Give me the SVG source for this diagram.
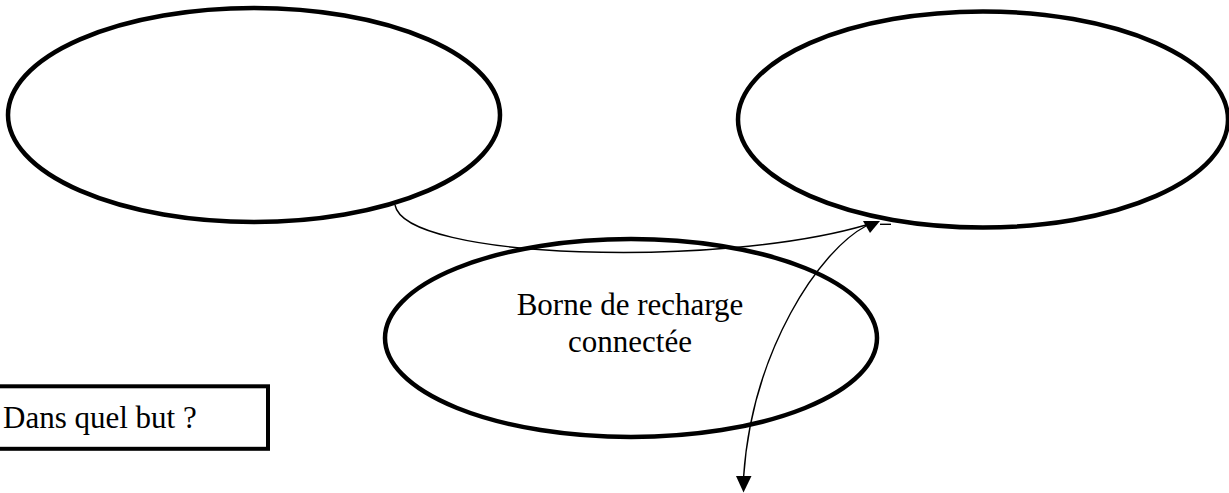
<svg xmlns="http://www.w3.org/2000/svg" width="1229" height="493" viewBox="0 0 1229 493">
<style>
.node{fill:#fff;stroke:#000;stroke-width:4.5}
.lbl{font-family:"Liberation Serif","Times New Roman",serif;font-size:31px;fill:#000}
.conn{fill:none;stroke:#000;stroke-width:1.4}
.head{fill:#000;stroke:none}
</style>
<rect width="1229" height="493" fill="#fff"/>
<g id="node-left"><ellipse class="node" cx="254" cy="115" rx="246" ry="107"/></g>
<g id="node-right"><ellipse class="node" cx="983" cy="119.5" rx="245" ry="108"/></g>
<g id="node-borne">
<ellipse class="node" cx="631" cy="338" rx="246" ry="99"/>
<text class="lbl" x="630" y="315" text-anchor="middle">Borne de recharge</text>
<text class="lbl" x="630" y="352" text-anchor="middle">connectée</text>
</g>
<g id="node-but">
<rect x="-6" y="386.3" width="274" height="62.5" fill="#fff" stroke="#000" stroke-width="4"/>
<text class="lbl" x="3" y="428">Dans quel but ?</text>
</g>
<g id="connectors">
<path class="conn" d="M395,205 C405,260 720,268 866,225"/>
<path class="conn" d="M866,226 C820,250 752,350 743.5,478"/>
<path class="conn" d="M880,224.3 H891"/>
<polygon class="head" points="863,221 880,221 870,233"/>
<polygon class="head" points="736,476 751.5,476 743.5,492.5"/>
</g>
</svg>
